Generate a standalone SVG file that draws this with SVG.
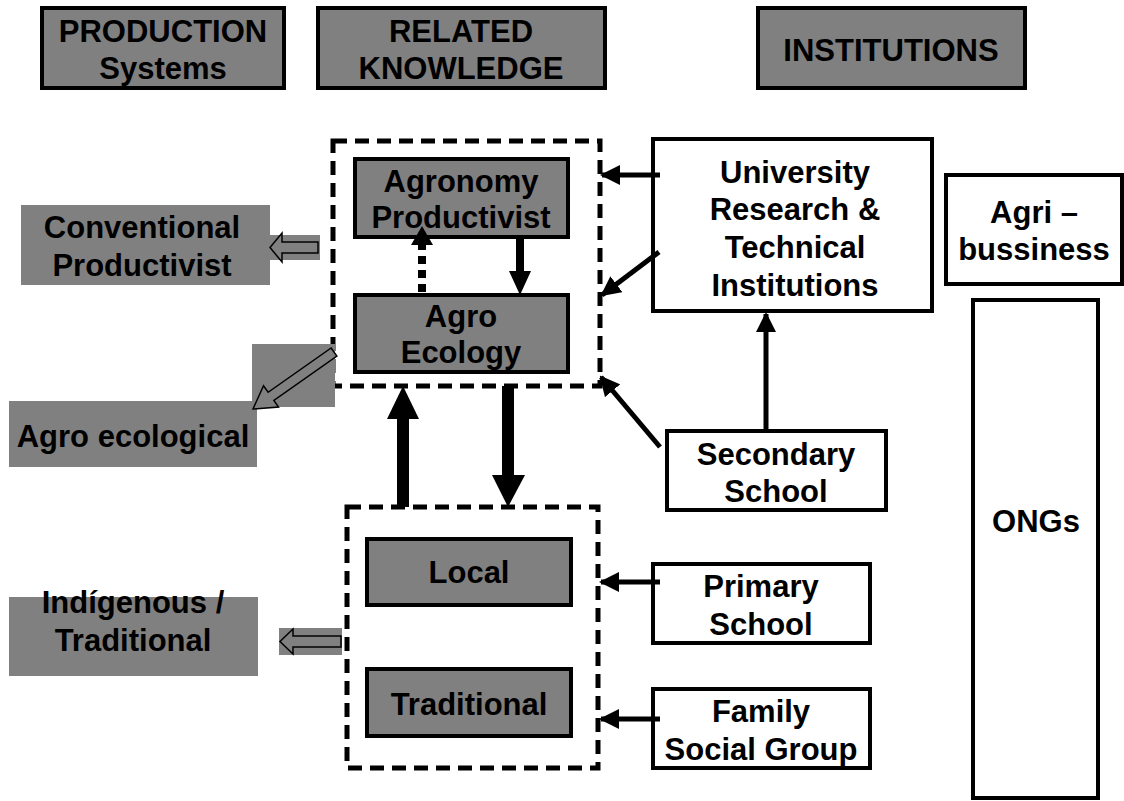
<svg xmlns="http://www.w3.org/2000/svg" width="1124" height="801" viewBox="0 0 1124 801">
<style>
text{font-family:"Liberation Sans",Arial,sans-serif;font-weight:bold;font-size:31px;fill:#000;text-anchor:middle}
.g{fill:#808080;stroke:#000;stroke-width:4}
.w{fill:#fff;stroke:#000;stroke-width:4}
.gp{fill:#808080;stroke:none}
.dash{fill:none;stroke:#000;stroke-width:5;stroke-dasharray:14,8}
.ln{stroke:#000;stroke-width:5;fill:none}
.ho{fill:#808080;stroke:#000;stroke-width:1.5}
</style>
<defs>
<marker id="ah" markerWidth="4" markerHeight="4" refX="3.6" refY="2" orient="auto" markerUnits="strokeWidth">
<path d="M0,0 L4,2 L0,4 z" fill="#000"/>
</marker>
</defs>
<g id="hdr-production"><rect class="g" x="42" y="8" width="242" height="80"/><text x="163" y="42">PRODUCTION</text><text x="163" y="79">Systems</text></g>
<g id="hdr-knowledge"><rect class="g" x="318" y="8" width="287" height="80"/><text x="461" y="42">RELATED</text><text x="461" y="79">KNOWLEDGE</text></g>
<g id="hdr-institutions"><rect class="g" x="758" y="8" width="267" height="80"/><text x="891" y="61">INSTITUTIONS</text></g>

<g id="conventional"><rect class="gp" x="21" y="205" width="249" height="80"/><text x="142" y="238">Conventional</text><text x="142" y="276">Productivist</text></g>
<g id="agroecological"><rect class="gp" x="9" y="401" width="248" height="66"/><text x="133" y="447">Agro ecological</text></g>
<g id="indigenous"><rect class="gp" x="9" y="597" width="249" height="79"/><text x="133" y="613">Indígenous /</text><text x="133" y="651">Traditional</text></g>

<g id="upper-group"><rect class="dash" x="333" y="141" width="267" height="245"/></g>
<g id="agronomy"><rect class="g" x="355" y="159" width="213" height="78"/><text x="461" y="192">Agronomy</text><text x="461" y="228">Productivist</text></g>
<g id="agroecology"><rect class="g" x="355" y="295" width="213" height="77"/><text x="461" y="327">Agro</text><text x="461" y="363">Ecology</text></g>

<g id="lower-group"><rect class="dash" x="347" y="507" width="251" height="261"/></g>
<g id="local"><rect class="g" x="367" y="539" width="204" height="66"/><text x="469" y="583">Local</text></g>
<g id="traditional"><rect class="g" x="367" y="669" width="204" height="67"/><text x="469" y="715">Traditional</text></g>

<g id="university"><rect class="w" x="653" y="139" width="279" height="172"/><text x="795" y="183">University</text><text x="795" y="220">Research &amp;</text><text x="795" y="258">Technical</text><text x="795" y="296">Institutions</text></g>
<g id="agribusiness"><rect class="w" x="946" y="175" width="176" height="109"/><text x="1034" y="223">Agri –</text><text x="1034" y="260">bussiness</text></g>
<g id="ongs"><rect class="w" x="973" y="300" width="125" height="498"/><text x="1036" y="532">ONGs</text></g>
<g id="secondary"><rect class="w" x="667" y="431" width="219" height="79"/><text x="776" y="465">Secondary</text><text x="776" y="502">School</text></g>
<g id="primary"><rect class="w" x="653" y="564" width="217" height="79"/><text x="761" y="597">Primary</text><text x="761" y="635">School</text></g>
<g id="family"><rect class="w" x="653" y="689" width="217" height="79"/><text x="761" y="722">Family</text><text x="761" y="760">Social Group</text></g>

<g id="connectors">
<rect class="gp" x="268" y="235" width="52" height="25"/>
<polygon class="ho" points="270,247.5 282,233 282,242 318,242 318,253 282,253 282,262"/>
<rect class="gp" x="252" y="344" width="83" height="63"/>
<polygon class="ho" transform="translate(253,409) rotate(-35.1)" points="0,0 22,-13 22,-5 99,-5 99,5 22,5 22,13"/>
<rect class="gp" x="279" y="628" width="63" height="27"/>
<polygon class="ho" points="280,641.5 293,629 293,636 341,636 341,647 293,647 293,654"/>
<line x1="520" y1="237" x2="520" y2="272" stroke="#000" stroke-width="8"/>
<polygon points="509,271 531,271 520,295" fill="#000"/>
<line x1="422" y1="292" x2="422" y2="243" stroke="#000" stroke-width="8" stroke-dasharray="8,6"/>
<polygon points="411,245 433,245 422,226" fill="#000"/>
<rect x="397" y="417" width="12" height="90" fill="#000"/>
<polygon points="387,419 419,419 403,386" fill="#000"/>
<rect x="502" y="386" width="12" height="90" fill="#000"/>
<polygon points="492,475 525,475 508,507" fill="#000"/>
<line class="ln" x1="660" y1="175" x2="602" y2="175" marker-end="url(#ah)"/>
<line class="ln" x1="659" y1="252" x2="602" y2="295" marker-end="url(#ah)"/>
<line class="ln" x1="660" y1="447" x2="601" y2="377" marker-end="url(#ah)"/>
<line class="ln" x1="766" y1="431" x2="766" y2="314" marker-end="url(#ah)"/>
<line class="ln" x1="660" y1="582" x2="601" y2="582" marker-end="url(#ah)"/>
<line class="ln" x1="660" y1="719" x2="601" y2="719" marker-end="url(#ah)"/>
</g>
</svg>
